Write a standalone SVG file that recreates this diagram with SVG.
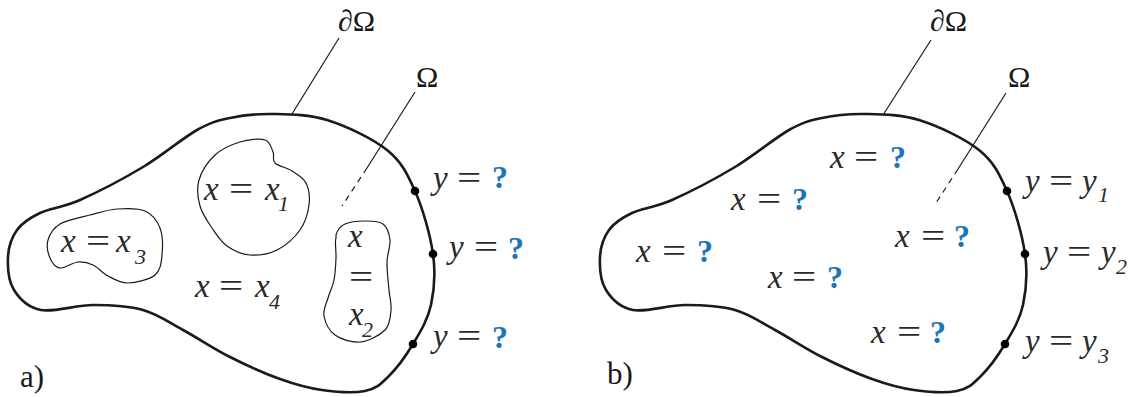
<svg xmlns="http://www.w3.org/2000/svg" xmlns:xlink="http://www.w3.org/1999/xlink" width="1135" height="397" viewBox="0 0 1135 397">
<style>
.bg{fill:#ffffff}
.outer{fill:none;stroke:#1a1a1a;stroke-width:2.6;stroke-linejoin:round}
.inner{fill:none;stroke:#1a1a1a;stroke-width:1.2}
.lead{fill:none;stroke:#1a1a1a;stroke-width:1.2}
.dash{fill:none;stroke:#1a1a1a;stroke-width:1.2;stroke-dasharray:6 5}
.dot{fill:#000000}
.mi{font-family:"Liberation Serif","Times New Roman",serif;font-style:italic;font-size:33px;fill:#2a2a2a}
.eq{font-family:"Liberation Serif","Times New Roman",serif;font-size:33px;fill:#2a2a2a}
.sub{font-family:"Liberation Serif","Times New Roman",serif;font-style:italic;font-size:22px;fill:#2a2a2a}
.q{font-family:"Liberation Serif","Times New Roman",serif;font-weight:bold;font-size:32px;fill:#1b75bb}
.lbl{font-family:"Liberation Serif","Times New Roman",serif;font-size:30px;fill:#1a1a1a}
.tag{font-family:"Liberation Serif","Times New Roman",serif;font-size:31px;fill:#1a1a1a}
</style>
<defs>
<path id="outline" d="M272,114 C288.2,114.3 307.8,114 327,120 C346.2,126 372.3,138.2 387,150 C401.7,161.8 407.3,173.7 415,191 C422.7,208.3 430.3,235 433,254 C435.7,273 434.3,290 431,305 C427.7,320 420.2,332 413,344 C405.8,356 396,369.2 388,377 C380,384.8 376,388.8 365,391 C354,393.2 336.2,392 322,390 C307.8,388 295.3,384.5 280,379 C264.7,373.5 246.2,365.2 230,357 C213.8,348.8 197.5,337.8 183,330 C168.5,322.2 158,314.2 143,310 C128,305.8 110,305 93,305 C76,305 54.2,312.5 41,310 C27.8,307.5 19.5,298.8 14,290 C8.5,281.2 7.5,267 8,257 C8.5,247 11.7,237.3 17,230 C22.3,222.7 29.5,218 40,213 C50.5,208 62.8,207.7 80,200 C97.2,192.3 123.5,178.7 143,167 C162.5,155.3 182.5,138.2 197,130 C211.5,121.8 217.5,120.7 230,118 C242.5,115.3 255.8,113.7 272,114 Z"/>
</defs>
<rect class="bg" x="0" y="0" width="1135" height="397"/>

<!-- connectors (leader lines) -->
<g id="connectors">
<line class="lead" x1="339" y1="38" x2="292" y2="114"/>
<line class="lead" x1="415" y1="92" x2="367" y2="168"/>
<line class="dash" x1="367" y1="168" x2="342" y2="206"/>
<line class="lead" x1="931" y1="40" x2="883" y2="115"/>
<line class="lead" x1="1006" y1="93" x2="958" y2="169"/>
<line class="dash" x1="958" y1="169" x2="934" y2="206"/>
</g>

<!-- panel a -->
<g id="domain-a">
<use xlink:href="#outline" href="#outline" class="outer"/>
<circle class="dot" cx="415" cy="191" r="4.3"/>
<circle class="dot" cx="433" cy="254" r="4.3"/>
<circle class="dot" cx="413" cy="344" r="4.3"/>
</g>

<g id="region-x1">
<path class="inner" d="M199,180 C201.5,171.5 208.2,161.3 215,155 C221.8,148.7 231.7,144.5 240,142 C248.3,139.5 259.5,138.3 265,140 C270.5,141.7 271.3,148.2 273,152 C274.7,155.8 271.8,159.8 275,163 C278.2,166.2 286.8,167.7 292,171 C297.2,174.3 303.2,177.3 306,183 C308.8,188.7 310,197.2 309,205 C308,212.8 305.3,222.5 300,230 C294.7,237.5 285.3,245.8 277,250 C268.7,254.2 258.3,255.7 250,255 C241.7,254.3 233.3,250.5 227,246 C220.7,241.5 216.5,234.7 212,228 C207.5,221.3 202.2,214 200,206 C197.8,198 196.5,188.5 199,180 Z"/>
<text class="mi" x="204" y="200">x</text>
<text class="eq" transform="translate(229,200) scale(1.3,1)">=</text>
<text class="mi" x="265" y="200">x</text>
<text class="sub" x="278" y="211">1</text>
</g>

<g id="region-x3">
<path class="inner" d="M48,240 C49.7,234.3 53,228.2 60,224 C67,219.8 80.5,217.5 90,215 C99.5,212.5 107.8,209.7 117,209 C126.2,208.3 137.8,207.8 145,211 C152.2,214.2 157.2,220.7 160,228 C162.8,235.3 162.8,247.2 162,255 C161.2,262.8 160.7,270.3 155,275 C149.3,279.7 135.8,282.8 128,283 C120.2,283.2 113.8,279 108,276 C102.2,273 98,267.3 93,265 C88,262.7 83.5,261.5 78,262 C72.5,262.5 64.7,268.7 60,268 C55.3,267.3 52,262.7 50,258 C48,253.3 46.3,245.7 48,240 Z"/>
<text class="mi" x="61" y="252">x</text>
<text class="eq" transform="translate(86,252) scale(1.3,1)">=</text>
<text class="mi" x="116" y="252">x</text>
<text class="sub" x="135" y="264">3</text>
</g>

<g id="region-x2">
<path class="inner" d="M336,235 C337.5,229.3 340.2,226.3 345,224 C349.8,221.7 358.7,221 365,221 C371.3,221 378.8,220.8 383,224 C387.2,227.2 389.3,233.7 390,240 C390.7,246.3 387.2,253.7 387,262 C386.8,270.3 388.3,282 389,290 C389.7,298 391.7,303.3 391,310 C390.3,316.7 390.2,324.7 385,330 C379.8,335.3 368.3,341.2 360,342 C351.7,342.8 341,339.3 335,335 C329,330.7 325.2,322.2 324,316 C322.8,309.8 326.3,304 328,298 C329.7,292 332.7,286.7 334,280 C335.3,273.3 335.7,265.5 336,258 C336.3,250.5 334.5,240.7 336,238 Z"/>
<text class="mi" x="348" y="247">x</text>
<text class="eq" transform="translate(349,288) scale(1.3,1)">=</text>
<text class="mi" x="349" y="325">x</text>
<text class="sub" x="362" y="337">2</text>
</g>

<g id="region-x4">
<text class="mi" x="195" y="297">x</text>
<text class="eq" transform="translate(219,297) scale(1.3,1)">=</text>
<text class="mi" x="255" y="297">x</text>
<text class="sub" x="269" y="309">4</text>
</g>

<g id="bc-a">
<text class="mi" x="433" y="189">y</text>
<text class="eq" transform="translate(457,189) scale(1.3,1)">=</text>
<text class="q" x="492" y="188">?</text>
<text class="mi" x="449" y="258">y</text>
<text class="eq" transform="translate(474,258) scale(1.3,1)">=</text>
<text class="q" x="508" y="259">?</text>
<text class="mi" x="433" y="347">y</text>
<text class="eq" transform="translate(457,347) scale(1.3,1)">=</text>
<text class="q" x="492" y="348">?</text>
</g>

<g id="label-dOmega-a"><text class="lbl" x="338" y="31">∂Ω</text></g>
<g id="label-Omega-a"><text class="lbl" x="416" y="87">Ω</text></g>
<g id="tag-a"><text class="tag" x="20" y="387">a)</text></g>

<!-- panel b -->
<g id="domain-b">
<use xlink:href="#outline" href="#outline" class="outer" transform="translate(592,0)"/>
<circle class="dot" cx="1007" cy="191" r="4.3"/>
<circle class="dot" cx="1025" cy="254" r="4.3"/>
<circle class="dot" cx="1005" cy="344" r="4.3"/>
</g>

<g id="unknowns-b">
<text class="mi" x="830" y="168">x</text>
<text class="eq" transform="translate(854,168) scale(1.3,1)">=</text>
<text class="q" x="890" y="168">?</text>

<text class="mi" x="731" y="210">x</text>
<text class="eq" transform="translate(757,210) scale(1.3,1)">=</text>
<text class="q" x="792" y="210">?</text>

<text class="mi" x="636" y="262">x</text>
<text class="eq" transform="translate(662,262) scale(1.3,1)">=</text>
<text class="q" x="697" y="262">?</text>

<text class="mi" x="768" y="288">x</text>
<text class="eq" transform="translate(792,288) scale(1.3,1)">=</text>
<text class="q" x="827" y="288">?</text>

<text class="mi" x="895" y="247">x</text>
<text class="eq" transform="translate(921,247) scale(1.3,1)">=</text>
<text class="q" x="954" y="247">?</text>

<text class="mi" x="871" y="343">x</text>
<text class="eq" transform="translate(897,343) scale(1.3,1)">=</text>
<text class="q" x="930" y="343">?</text>
</g>

<g id="bc-b">
<text class="mi" x="1025" y="192">y</text>
<text class="eq" transform="translate(1049,192) scale(1.3,1)">=</text>
<text class="mi" x="1082" y="192">y</text>
<text class="sub" x="1098" y="202">1</text>

<text class="mi" x="1043" y="263">y</text>
<text class="eq" transform="translate(1067,263) scale(1.3,1)">=</text>
<text class="mi" x="1101" y="263">y</text>
<text class="sub" x="1116" y="274">2</text>

<text class="mi" x="1025" y="352">y</text>
<text class="eq" transform="translate(1049,352) scale(1.3,1)">=</text>
<text class="mi" x="1082" y="352">y</text>
<text class="sub" x="1098" y="363">3</text>
</g>

<g id="label-dOmega-b"><text class="lbl" x="930" y="31">∂Ω</text></g>
<g id="label-Omega-b"><text class="lbl" x="1008" y="87">Ω</text></g>
<g id="tag-b"><text class="tag" x="607" y="384">b)</text></g>
</svg>
